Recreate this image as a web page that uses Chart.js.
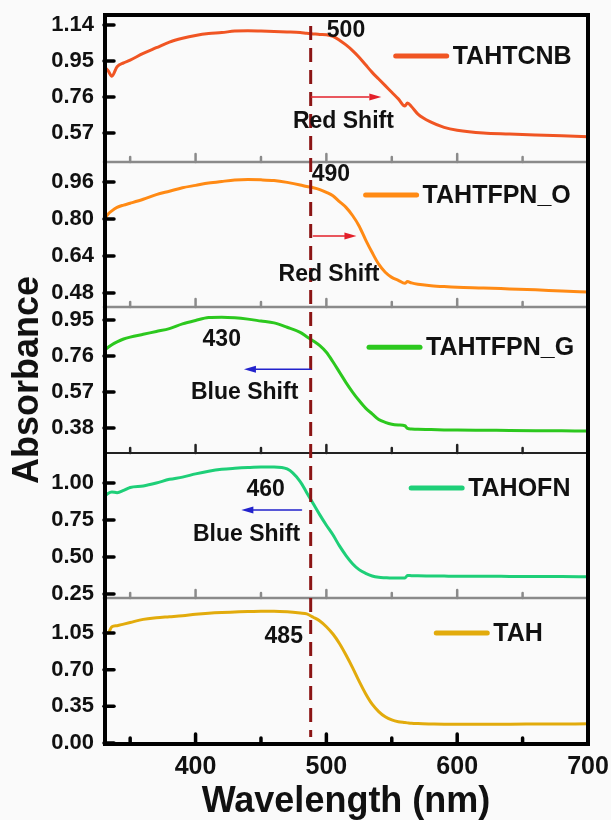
<!DOCTYPE html>
<html>
<head>
<meta charset="utf-8">
<title>Absorbance spectra</title>
<script src="https://cdn.jsdelivr.net/npm/chart.js@4.4.0/dist/chart.umd.min.js"></script>
<style>
  html, body { margin: 0; padding: 0; background: #fafafa; }
  #wrap { width: 611px; height: 820px; position: relative; }
</style>
</head>
<body>
<div id="wrap"><canvas id="myChart"></canvas></div>
<script>
// wavelength grid (nm), shared by all five spectra
var wavelength = [330, 333, 336, 340, 345, 350, 360, 370, 380, 390,
                  400, 410, 420, 430, 440, 450, 460, 470, 480, 485,
                  490, 495, 500, 505, 510, 515, 520, 525, 530, 535,
                  540, 545, 550, 555, 560, 562, 565, 570, 580, 590,
                  600, 620, 640, 660, 680, 700];

var tahtcnb = [0.92, 0.90, 0.87, 0.92, 0.94, 0.955, 0.99, 1.02, 1.05, 1.07,
               1.085, 1.095, 1.10, 1.108, 1.11, 1.108, 1.105, 1.103, 1.10, 1.096,
               1.093, 1.09, 1.088, 1.08, 1.06, 1.035, 1.005, 0.97, 0.93, 0.89,
               0.855, 0.82, 0.785, 0.75, 0.712, 0.728, 0.71, 0.67, 0.627, 0.60,
               0.585, 0.57, 0.565, 0.56, 0.555, 0.55];

var tahtfpnO = [0.796, 0.82, 0.835, 0.85, 0.86, 0.868, 0.885, 0.905, 0.92, 0.935,
                0.945, 0.955, 0.962, 0.968, 0.97, 0.969, 0.966, 0.958, 0.947, 0.94,
                0.935, 0.927, 0.915, 0.90, 0.875, 0.85, 0.815, 0.77, 0.71, 0.655,
                0.605, 0.57, 0.548, 0.535, 0.522, 0.53, 0.524, 0.518, 0.512, 0.508,
                0.505, 0.502, 0.498, 0.494, 0.489, 0.485];

var tahtfpnG = [0.79, 0.805, 0.82, 0.835, 0.85, 0.86, 0.875, 0.89, 0.905, 0.93,
                0.948, 0.963, 0.965, 0.962, 0.955, 0.945, 0.935, 0.912, 0.885, 0.862,
                0.84, 0.815, 0.78, 0.73, 0.675, 0.62, 0.57, 0.525, 0.485, 0.455,
                0.425, 0.41, 0.40, 0.396, 0.392, 0.378, 0.375, 0.373, 0.372, 0.37,
                0.369, 0.368, 0.367, 0.366, 0.365, 0.364];

var tahofn = [0.905, 0.93, 0.94, 0.935, 0.95, 0.97, 0.98, 1.0, 1.025, 1.04,
              1.062, 1.08, 1.093, 1.10, 1.105, 1.108, 1.108, 1.095, 1.01, 0.935,
              0.86, 0.785, 0.715, 0.65, 0.575, 0.51, 0.455, 0.415, 0.39, 0.372,
              0.363, 0.36, 0.358, 0.358, 0.358, 0.375, 0.374, 0.373, 0.372, 0.371,
              0.37, 0.37, 0.369, 0.368, 0.368, 0.367];

var tah = [1.07, 1.05, 1.11, 1.12, 1.135, 1.15, 1.18, 1.195, 1.205, 1.215,
           1.228, 1.238, 1.245, 1.25, 1.255, 1.258, 1.258, 1.252, 1.24, 1.232,
           1.20, 1.165, 1.11, 1.04, 0.95, 0.84, 0.72, 0.59, 0.47, 0.37,
           0.30, 0.25, 0.22, 0.203, 0.195, 0.192, 0.188, 0.185, 0.182, 0.18,
           0.18, 0.18, 0.18, 0.181, 0.182, 0.183];

var names = ['TAHTCNB', 'TAHTFPN_O', 'TAHTFPN_G', 'TAHOFN', 'TAH'];

// y tick values of each panel, top to bottom
var ticks1 = [0.57, 0.76, 0.95, 1.14];
var ticks2 = [0.48, 0.64, 0.80, 0.96];
var ticks3 = [0.38, 0.57, 0.76, 0.95];
var ticks4 = [0.25, 0.50, 0.75, 1.00];
var ticks5 = [0.00, 0.35, 0.70, 1.05];

var xTicks = [400, 500, 600, 700];
var xMinor = [350, 450, 550, 650];

// absorption edges written in each panel, and the reference edge line
var edgeLabels = ['500', '490', '430', '460', '485'];
var shiftLabels = ['Red Shift', 'Red Shift', 'Blue Shift', 'Blue Shift', ''];
var refEdge = 488;

var FONT = '"Liberation Sans", Arial, Helvetica, sans-serif';

var panels = [
  {id: 'y1', data: tahtcnb,  ticks: ticks1, min: 0.417, max: 1.198, weight: 148, color: '#f05523', sep: '#8a8a8a'},
  {id: 'y2', data: tahtfpnO, ticks: ticks2, min: 0.42,  max: 1.046, weight: 145, color: '#ff8a14', sep: '#8a8a8a'},
  {id: 'y3', data: tahtfpnG, ticks: ticks3, min: 0.248, max: 1.019, weight: 146, color: '#2cc81e', sep: '#222222'},
  {id: 'y4', data: tahofn,   ticks: ticks4, min: 0.223, max: 1.203, weight: 145, color: '#1ecf78', sep: '#8a8a8a'},
  {id: 'y5', data: tah,      ticks: ticks5, min: 0.0,   max: 1.384, weight: 145, color: '#e2ab0c', sep: null}
];

// where the notes sit in each panel (data coordinates of that panel)
var notes = [
  {edge: [515, 1.108], shift: [513, 0.628], arrow: [488, 542, 0.76],  arrowColor: '#e3202a', legend: [553, 0.976]},
  {edge: [503.5, 0.992], shift: [502, 0.558], arrow: [490, 523, 0.726], arrowColor: '#e3202a', legend: [530, 0.904]},
  {edge: [420, 0.844], shift: [437.5, 0.565], arrow: [488, 437, 0.69], arrowColor: '#2222cc', legend: [532.6, 0.807]},
  {edge: [453.6, 0.953], shift: [439, 0.649], arrow: [481, 435, 0.818], arrowColor: '#2222cc', legend: [564.8, 0.966]},
  {edge: [467.4, 1.012], shift: null, arrow: null, legend: [584, 1.05]}
];

var scales = {
  x: {
    type: 'linear', min: 330, max: 700,
    afterBuildTicks: function(s) { s.ticks = xTicks.map(function(v) { return {value: v}; }); },
    grid: {display: false, drawTicks: false},
    border: {display: false},
    ticks: {font: {family: FONT, size: 25, weight: 'bold'}, color: '#111', padding: 9, maxRotation: 0,
            autoSkip: false, callback: function(v) { return String(v); }},
    title: {display: true, text: 'Wavelength (nm)', color: '#111',
            font: {family: FONT, size: 36, weight: 'bold', lineHeight: 1}, padding: {top: 0, bottom: 0}},
    afterFit: function(s) { s.height = 77; s.paddingLeft = 0; s.paddingRight = 0; }
  }
};

// left axes are stacked; the last one added ends up on top
for (var i = panels.length - 1; i >= 0; i--) {
  (function(p, idx) {
    scales[p.id] = {
      type: 'linear', position: 'left', stack: 'panels', stackWeight: p.weight,
      min: p.min, max: p.max,
      afterBuildTicks: function(s) { s.ticks = p.ticks.map(function(v) { return {value: v}; }); },
      grid: {display: false, drawTicks: false},
      border: {display: false},
      ticks: {font: {family: FONT, size: 22, weight: 'bold'}, color: '#111', padding: 10,
              autoSkip: false, callback: function(v) { return v.toFixed(2); }},
      title: {display: idx === 2, text: 'Absorbance', color: '#111',
              font: {family: FONT, size: 36, weight: 'bold', lineHeight: 1}, padding: {top: 10, bottom: 0}},
      afterFit: function(s) { s.width = 104; s.paddingTop = 0; s.paddingBottom = 0; }
    };
  })(panels[i], i);
}

function arrow(ctx, x0, x1, y, color) {
  var dir = x1 > x0 ? 1 : -1, head = 12;
  ctx.strokeStyle = color;
  ctx.fillStyle = color;
  ctx.lineWidth = 1.5;
  ctx.beginPath();
  ctx.moveTo(x0, y);
  ctx.lineTo(x1 - dir * head, y);
  ctx.stroke();
  ctx.beginPath();
  ctx.moveTo(x1, y);
  ctx.lineTo(x1 - dir * head, y - 3.5);
  ctx.lineTo(x1 - dir * head, y + 3.5);
  ctx.closePath();
  ctx.fill();
}

var decor = {
  id: 'decor',
  afterDatasetsDraw: function(chart) {
    var ctx = chart.ctx, area = chart.chartArea, xs = chart.scales.x;
    ctx.save();
    ctx.lineCap = 'round';

    panels.forEach(function(p, i) {
      var ys = chart.scales[p.id];
      // separator between panels, with small ticks pointing up
      if (p.sep) {
        ctx.strokeStyle = p.sep;
        ctx.lineWidth = p.sep === '#222222' ? 1.8 : 2.6;
        ctx.beginPath();
        ctx.moveTo(area.left, ys.bottom);
        ctx.lineTo(area.right, ys.bottom);
        ctx.stroke();
        ctx.lineWidth = 2.5;
        xTicks.concat(xMinor).forEach(function(v) {
          var len = xTicks.indexOf(v) >= 0 ? 8 : 5;
          var px = xs.getPixelForValue(v);
          ctx.beginPath();
          ctx.moveTo(px, ys.bottom);
          ctx.lineTo(px, ys.bottom - len);
          ctx.stroke();
        });
      }
      // y ticks pointing into the panel
      ctx.strokeStyle = '#000';
      ctx.lineWidth = 3.5;
      p.ticks.forEach(function(v) {
        var py = ys.getPixelForValue(v);
        ctx.beginPath();
        ctx.moveTo(area.left, py);
        ctx.lineTo(area.left + 10, py);
        ctx.stroke();
      });
    });

    // bottom axis ticks
    ctx.strokeStyle = '#000';
    ctx.lineWidth = 3.5;
    xTicks.concat(xMinor).forEach(function(v) {
      var len = xTicks.indexOf(v) >= 0 ? 9 : 5;
      var px = xs.getPixelForValue(v);
      ctx.beginPath();
      ctx.moveTo(px, area.bottom);
      ctx.lineTo(px, area.bottom - len);
      ctx.stroke();
    });

    // reference edge line
    var rx = xs.getPixelForValue(refEdge);
    ctx.strokeStyle = '#8b1414';
    ctx.lineWidth = 3;
    ctx.lineCap = 'butt';
    ctx.setLineDash([14, 8]);
    ctx.beginPath();
    ctx.moveTo(rx, area.top + 12);
    ctx.lineTo(rx, area.bottom - 6);
    ctx.stroke();
    ctx.setLineDash([]);

    // arrows, edge values, shift notes and legend entries
    ctx.textBaseline = 'middle';
    notes.forEach(function(n, i) {
      var ys = chart.scales[panels[i].id];
      if (n.arrow) {
        arrow(ctx, xs.getPixelForValue(n.arrow[0]), xs.getPixelForValue(n.arrow[1]),
              ys.getPixelForValue(n.arrow[2]), n.arrowColor);
      }
      ctx.fillStyle = '#111';
      ctx.textAlign = 'center';
      ctx.font = 'bold 23px ' + FONT;
      ctx.fillText(edgeLabels[i], xs.getPixelForValue(n.edge[0]), ys.getPixelForValue(n.edge[1]));
      if (n.shift) {
        ctx.fillText(shiftLabels[i], xs.getPixelForValue(n.shift[0]), ys.getPixelForValue(n.shift[1]));
      }
      var lx = xs.getPixelForValue(n.legend[0]), ly = ys.getPixelForValue(n.legend[1]);
      ctx.strokeStyle = panels[i].color;
      ctx.lineWidth = 5;
      ctx.lineCap = 'round';
      ctx.beginPath();
      ctx.moveTo(lx, ly);
      ctx.lineTo(lx + 51, ly);
      ctx.stroke();
      ctx.textAlign = 'left';
      ctx.font = 'bold 25px ' + FONT;
      ctx.fillText(names[i], lx + 57, ly + 1);
    });

    // black frame
    ctx.strokeStyle = '#000';
    ctx.lineWidth = 4;
    ctx.lineCap = 'butt';
    ctx.strokeRect(area.left + 1, area.top + 1, area.right - area.left - 1, area.bottom - area.top);
    ctx.restore();
  }
};

new Chart('myChart', {
  type: 'line',
  data: {
    labels: wavelength,
    datasets: panels.map(function(p, i) {
      return {
        label: names[i],
        data: wavelength.map(function(w, k) { return {x: w, y: p.data[k]}; }),
        yAxisID: p.id,
        xAxisID: 'x',
        borderColor: p.color,
        borderWidth: 3,
        pointRadius: 0,
        fill: false,
        cubicInterpolationMode: 'monotone'
      };
    })
  },
  options: {
    responsive: true,
    maintainAspectRatio: false,
    animation: false,
    layout: {padding: {top: 14, right: 23, left: 0, bottom: 0}},
    plugins: {legend: {display: false}, tooltip: {enabled: false}},
    scales: scales
  },
  plugins: [decor]
});
</script>
</body>
</html>
